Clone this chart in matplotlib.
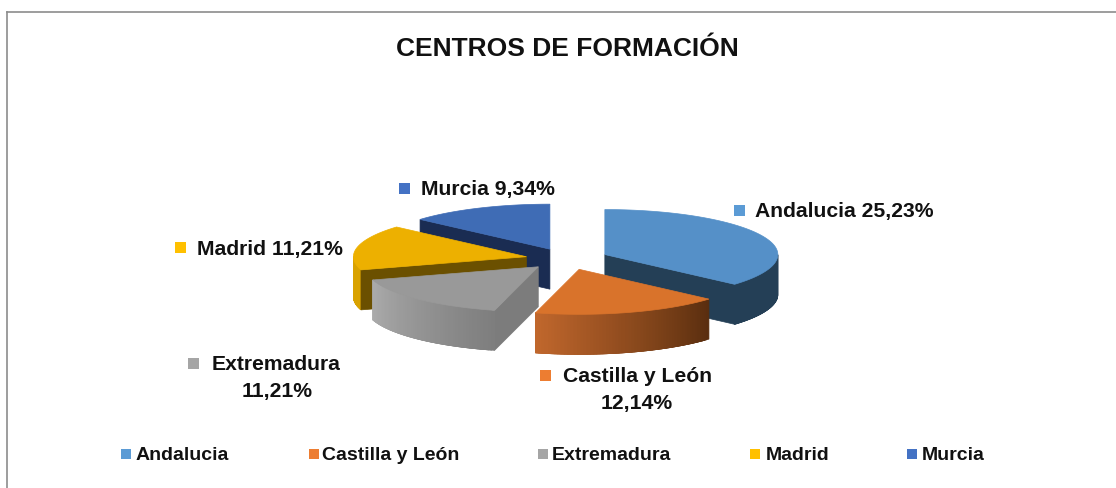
import numpy as np
import matplotlib
matplotlib.use("Agg")
import matplotlib.pyplot as plt
from matplotlib.colors import to_rgb
from matplotlib.patches import Polygon, Rectangle

plt.rcParams['font.family'] = ['Liberation Sans', 'DejaVu Sans']

# data
categories = ['Andalucia', 'Castilla y León', 'Extremadura', 'Madrid', 'Murcia']
values = [25.23, 12.14, 11.21, 11.21, 9.34]
title = 'CENTROS DE FORMACIÓN'

# colours per slice
top_colors = ['#5590C8', '#D9732B', '#999999', '#EDB000', '#3F6CB5']
wall_colors = ['#243F56', '#5E3010', '#7C7C7C', '#6B5000', '#1A2C52']
arc_left = ['#243F56', '#C0672C', '#ABABAB', '#D9A200', '#1A2C52']
arc_right = ['#243F56', '#5A2E0F', '#7E7E7E', '#D9A200', '#1A2C52']
legend_colors = ['#5B9BD5', '#ED7D31', '#A5A5A5', '#FFC000', '#4472C4']

# pie geometry in pixels
cx, cy = 567, 259
rx, ry = 173, 45
depth = 40
explode = 0.24
draw_order = [4, 0, 3, 2, 1]


def point(ax_x, ax_y, theta, r=1.0):
    # theta is clockwise from 12 o'clock, in degrees
    t = np.radians(theta)
    return ax_x + r * rx * np.sin(t), ax_y - r * ry * np.cos(t)


def wall(ax, p0, p1, color):
    pts = [p0, p1, (p1[0], p1[1] + depth), (p0[0], p0[1] + depth)]
    ax.add_patch(Polygon(pts, closed=True, fc=color, ec=color, lw=0.5))


def draw_slice(ax, i, start, end):
    mid = (start + end) / 2
    ox, oy = point(cx, cy, mid, explode)

    # outer rim, only the part that faces the viewer
    a0, a1 = max(start, 90), min(end, 270)
    if a1 > a0:
        steps = np.linspace(a0, a1, 60)
        left, right = np.array(to_rgb(arc_left[i])), np.array(to_rgb(arc_right[i]))
        for k in range(len(steps) - 1):
            # each strip runs into the next one so no seams show
            p = point(ox, oy, steps[k])
            q = point(ox, oy, steps[min(k + 3, len(steps) - 1)])
            f = k / (len(steps) - 2)
            wall(ax, p, q, right + (left - right) * f)

    # flat sides
    apex = (ox, oy)
    if np.sin(np.radians(start)) < -1e-6:
        wall(ax, apex, point(ox, oy, start), wall_colors[i])
    if np.sin(np.radians(end)) > 1e-6:
        wall(ax, apex, point(ox, oy, end), wall_colors[i])

    # top face
    angles = np.linspace(start, end, 80)
    xs, ys = point(ox, oy, angles)
    pts = [apex] + list(zip(xs, ys))
    ax.add_patch(Polygon(pts, closed=True, fc=top_colors[i], ec=top_colors[i], lw=0.5))


def label_text(i):
    return f"{values[i]:.2f}".replace('.', ',') + '%'


fig = plt.figure(figsize=(11.16, 4.88), dpi=100)
ax = fig.add_axes([0, 0, 1, 1])
ax.set_xlim(0, 1116)
ax.set_ylim(488, 0)
ax.axis('off')

# chart frame, no right side in the picture
ax.plot([6.5, 6.5], [488, 12], color='#8C8C8C', lw=1.2)
ax.plot([6.5, 1116], [12, 12], color='#8C8C8C', lw=1.2)

ax.text(567, 49, title, ha='center', va='center', fontsize=19, fontweight='bold', color='#111111')

# slices
bounds = np.concatenate([[0], np.cumsum(values)]) / sum(values) * 360
for i in draw_order:
    draw_slice(ax, i, bounds[i], bounds[i + 1])

# data labels
marker_xy = [(739, 210), (545, 375), (193, 363), (180, 247), (404, 188)]
label_x = [755, 563, 212, 197, 421]
two_line = [False, True, True, False, False]
second_x = [0, 637, 277, 0, 0]
for i, name in enumerate(categories):
    mx, my = marker_xy[i]
    ax.add_patch(Rectangle((mx - 5.5, my - 5.5), 11, 11, fc=legend_colors[i], ec='none'))
    if two_line[i]:
        ax.text(label_x[i], my + 2, name, ha='left', va='center', fontsize=15.2, fontweight='bold', color='#111111')
        ax.text(second_x[i], my + 28, label_text(i), ha='center', va='center', fontsize=15.2, fontweight='bold', color='#111111')
    else:
        ax.text(label_x[i], my + 2, name + ' ' + label_text(i), ha='left', va='center', fontsize=15.2, fontweight='bold', color='#111111')

# legend
legend_x = [126, 314, 543, 755, 912]
legend_text_x = [136, 322, 552, 766, 922]
for i, name in enumerate(categories):
    ax.add_patch(Rectangle((legend_x[i] - 5, 449), 10, 10, fc=legend_colors[i], ec='none'))
    ax.text(legend_text_x[i], 455, name, ha='left', va='center', fontsize=14, fontweight='bold', color='#111111')

fig.savefig('out.png', dpi=100)
